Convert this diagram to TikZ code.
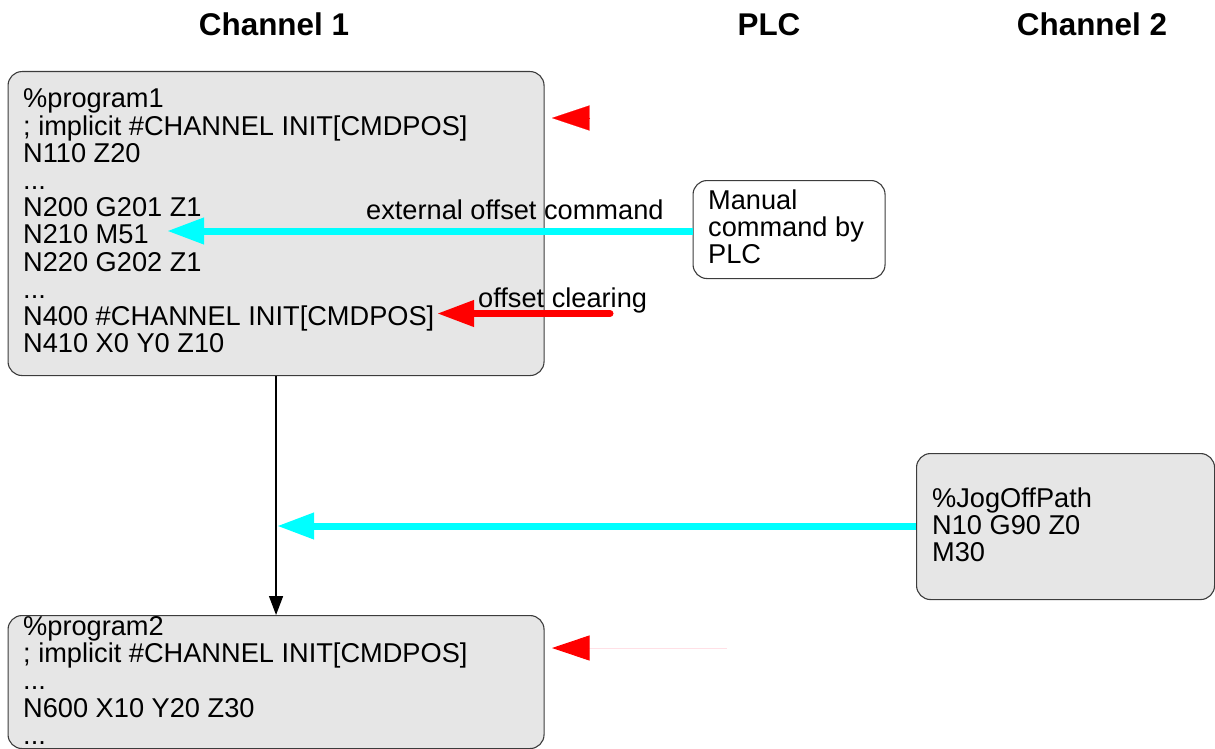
\documentclass[tikz,border=0pt]{standalone}
\usepackage{fontspec}
\setmainfont{Liberation Sans}
\usetikzlibrary{arrows.meta}
\definecolor{boxgray}{HTML}{E6E6E6}
\definecolor{boxline}{HTML}{3C3C3C}
\definecolor{cyanline}{HTML}{00FFFF}
\definecolor{faintred}{HTML}{FFE0E6}
\tikzset{
  graybox/.style={draw=boxline, line width=1.1pt, fill=boxgray, rounded corners=14pt, inner sep=0pt, anchor=north west},
  whitebox/.style={draw=boxline, line width=1.1pt, fill=white, rounded corners=14pt, inner sep=0pt, anchor=north west},
  code/.style={font=\fontsize{27.2}{27.2}\selectfont, inner sep=0pt, anchor=base west},
  lbl/.style={font=\fontsize{27.2}{27.2}\selectfont, inner sep=0pt, anchor=base west},
  title/.style={font=\fontsize{31.4}{32}\selectfont\bfseries, inner sep=0pt, anchor=base},
  bighead/.style={-{Triangle[length=37pt,width=25pt]}},
  cyanarrow/.style={draw=cyanline, line width=7pt, bighead},
  redarrow/.style={draw=red, line width=7pt, line cap=round, bighead},
  flowarrow/.style={draw=black, line width=1.4pt, -{Triangle[length=19pt,width=14pt]}}
}
\begin{document}
\begin{tikzpicture}[x=1pt,y=-1pt]
\useasboundingbox (0,0) rectangle (1215,749);

% titles
\node[title] (h1) at (274,35.5) {Channel 1};
\node[title] (h2) at (769,35.5) {PLC};
\node[title] (h3) at (1092,35.5) {Channel 2};

% boxes
\node[graybox, minimum width=536pt, minimum height=304pt] (prog1) at (7.5,71) {};
\node[graybox, minimum width=536pt, minimum height=133pt] (prog2) at (7.5,615) {};
\node[whitebox, minimum width=192pt, minimum height=98pt] (plc) at (692.5,180) {};
\node[graybox, minimum width=298pt, minimum height=146pt] (jog) at (916,453) {};

% box texts
\node[code] (t1) at (23,108) {\vtop{%
\hbox{\%program1}
\hbox{; implicit \#CHANNEL INIT[CMDPOS]}
\hbox{N110 Z20}
\hbox{...}
\hbox{N200 G201 Z1}
\hbox{N210 M51}
\hbox{N220 G202 Z1}
\hbox{...}
\hbox{N400 \#CHANNEL INIT[CMDPOS]}
\hbox{N410 X0 Y0 Z10}}};
\node[code] (t2) at (23,635.5) {\vtop{%
\hbox{\%program2}
\hbox{; implicit \#CHANNEL INIT[CMDPOS]}
\hbox{...}
\hbox{N600 X10 Y20 Z30}
\hbox{...}}};
\node[code] (t3) at (708,209) {\vtop{%
\hbox{Manual}
\hbox{command by}
\hbox{PLC}}};
\node[code] (t4) at (932,507.5) {\vtop{%
\hbox{\%JogOffPath}
\hbox{N10 G90 Z0}
\hbox{M30}}};

% coordinates for free ends
\coordinate (tipA) at (167,231);
\coordinate (tipB) at (277,526);
\coordinate (redS) at (610,313.5);
\coordinate (redT) at (437,313.5);
\coordinate (r1s) at (590,118);
\coordinate (r1t) at (552,118);
\coordinate (r2s) at (727,648);
\coordinate (r2t) at (552,648);

% connectors
\draw[flowarrow] (prog1.south) -- (prog2.north);
\draw[cyanarrow] (plc.west |- tipA) -- (tipA);
\draw[cyanarrow] (jog.west |- tipB) -- (tipB);
\draw[redarrow] (redS) -- (redT);
\draw[draw=red, line width=0.1pt, -{Triangle[length=37.5pt,width=25pt]}] (r1s) -- (r1t);
\draw[draw=faintred, line width=1pt, -{Triangle[length=37.5pt,width=25pt,color=red]}] (r2s) -- (r2t);

% labels
\node[lbl] (l1) at (366,219) {external offset command};
\node[lbl] (l2) at (478,307.5) {offset clearing};
\end{tikzpicture}
\end{document}
